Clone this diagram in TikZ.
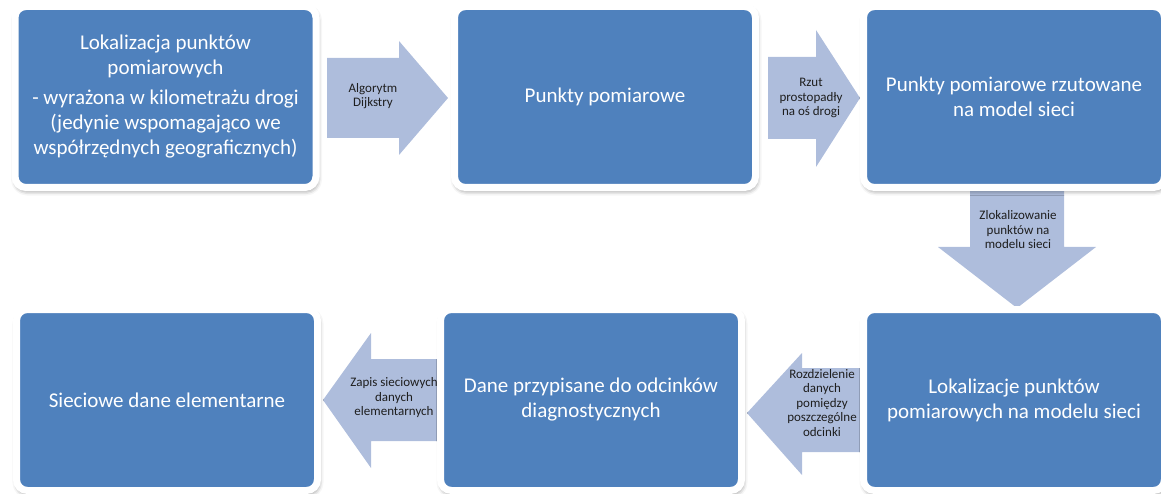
\documentclass[tikz,border=0pt]{standalone}
\usepackage{fontspec}
\setmainfont{Carlito}
\usetikzlibrary{shadows.blur}
\definecolor{boxblue}{RGB}{79,129,189}
\definecolor{arrowblue}{RGB}{174,189,220}
\definecolor{labelgray}{RGB}{30,30,30}
\begin{document}
\begin{tikzpicture}[x=1pt,y=-1pt,
  stage/.style={draw=white, line width=7pt, fill=boxblue, rounded corners=11pt,
    text=white, align=center, font=\fontsize{21}{25}\selectfont, inner sep=0pt,
    minimum width=301pt, minimum height=181pt,
    blur shadow={shadow xshift=1pt, shadow yshift=-3pt, shadow blur radius=5pt, shadow opacity=55}},
  flow/.style={fill=arrowblue},
  flowlabel/.style={align=center, text=labelgray, font=\fontsize{13}{14.5}\selectfont, inner sep=0pt}]

\useasboundingbox (0,0) rectangle (1161,494);

% block arrows (drawn first, so the boxes overlap their ends)
\fill[flow] (327,58) -- (399,58) -- (399,41) -- (448,98) -- (399,155) -- (399,138) -- (327,138) -- cycle;
\fill[flow] (768,57) -- (816,57) -- (816,30) -- (860,98) -- (816,167) -- (816,139) -- (768,139) -- cycle;
\fill[flow] (970,186) -- (1064,186) -- (1064,247) -- (1096,247) -- (1017,308) -- (938,247) -- (970,247) -- cycle;
\fill[flow] (446,359) -- (371,359) -- (371,333) -- (323,400) -- (371,468) -- (371,441) -- (446,441) -- cycle;
\fill[flow] (875,368) -- (802,368) -- (802,353) -- (747,413) -- (802,475) -- (802,452) -- (875,452) -- cycle;

\node[flowlabel] (a1) at (373,96) {Algorytm\\Dijkstry};
\node[flowlabel] (a2) at (811,98) {Rzut\\prostopadły\\na oś drogi};
\node[flowlabel] (a3) at (1018,230) {Zlokalizowanie\\punktów na\\modelu sieci};
\node[flowlabel] (a4) at (394,398) {Zapis sieciowych\\danych\\elementarnych};
\node[flowlabel] (a5) at (822,403) {Rozdzielenie\\danych\\pomiędzy\\poszczególne\\odcinki};

% process boxes
\node[stage] (b1) at (165.5,97) {Lokalizacja punktów\\pomiarowych\\[5pt]- wyrażona w kilometrażu drogi\\(jedynie wspomagająco we\\współrzędnych geograficznych)};
\node[stage] (b2) at (605,97) {Punkty pomiarowe};
\node[stage] (b3) at (1014,97) {Punkty pomiarowe rzutowane\\na model sieci};
\node[stage] (b6) at (1014,400) {Lokalizacje punktów\\pomiarowych na modelu sieci};
\node[stage] (b5) at (591,400) {Dane przypisane do odcinków\\diagnostycznych};
\node[stage] (b4) at (167,400) {Sieciowe dane elementarne};
\end{tikzpicture}
\end{document}
